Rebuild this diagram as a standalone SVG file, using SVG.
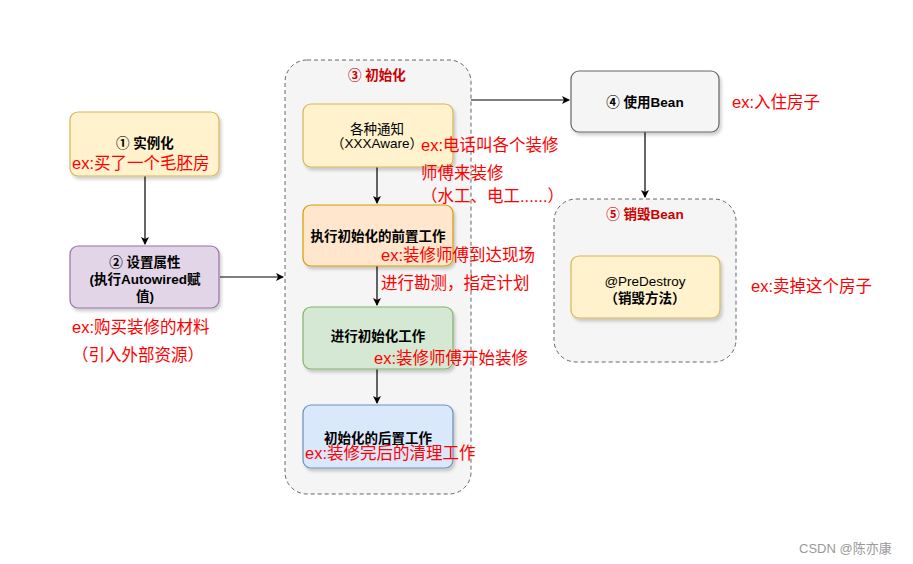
<svg xmlns="http://www.w3.org/2000/svg" width="913" height="564" viewBox="0 0 913 564">
<defs>
<style>
.t{font-family:"Liberation Sans","Noto Sans CJK SC",sans-serif;font-size:13.5px;fill:#000;text-anchor:middle;font-weight:bold}
.n{font-weight:normal}
.r{font-family:"Liberation Sans","Noto Sans CJK SC",sans-serif;font-size:16.5px;fill:#ff0000}
.rt{font-family:"Liberation Sans","Noto Sans CJK SC",sans-serif;font-size:13.5px;fill:#cc0000;font-weight:bold;text-anchor:middle}
.box{stroke-width:1.2}
.grp{fill:#f5f5f5;stroke:#666;stroke-dasharray:4 3;stroke-width:1}
.edge{fill:none;stroke:#000;stroke-width:1.2}
</style>
<marker id="ah" markerWidth="10" markerHeight="10" refX="8" refY="5" orient="auto" markerUnits="userSpaceOnUse">
<path d="M1,1 L9,5 L1,9 L3,5 Z" fill="#000"/>
</marker>
<filter id="sh" x="-10%" y="-10%" width="130%" height="140%">
<feDropShadow dx="2" dy="3" stdDeviation="1.5" flood-color="#000" flood-opacity="0.18"/>
</filter>
</defs>
<rect width="913" height="564" fill="#fff"/>

<g id="container3">
<rect class="grp" x="285" y="60" width="186" height="434" rx="22"/>
<text class="rt" x="377" y="80">③ 初始化</text>
</g>
<g id="container5">
<rect class="grp" x="554" y="199" width="182" height="163" rx="22"/>
<text class="rt" x="645" y="219">⑤ 销毁Bean</text>
</g>

<g id="connectors">
<path class="edge" d="M145,176 L145,244" marker-end="url(#ah)"/>
<path class="edge" d="M220,277 L283,277" marker-end="url(#ah)"/>
<path class="edge" d="M377,167 L377,203" marker-end="url(#ah)"/>
<path class="edge" d="M377,266 L377,305" marker-end="url(#ah)"/>
<path class="edge" d="M377,369 L377,403" marker-end="url(#ah)"/>
<path class="edge" d="M471,100 L569,100" marker-end="url(#ah)"/>
<path class="edge" d="M645,132 L645,197" marker-end="url(#ah)"/>
</g>

<g id="node1">
<rect class="box" x="70" y="112" width="149" height="64" rx="8" fill="#fff2cc" stroke="#d6b656" filter="url(#sh)"/>
<text class="t" x="145" y="148">① 实例化</text>
<text class="r" x="72" y="169">ex:买了一个毛胚房</text>
</g>

<g id="node2">
<rect class="box" x="70" y="246" width="149" height="62" rx="8" fill="#e1d5e7" stroke="#9673a6" filter="url(#sh)"/>
<text class="t" x="145" y="267">② 设置属性</text>
<text class="t" x="145" y="284">(执行Autowired赋</text>
<text class="t" x="145" y="301">值)</text>
</g>
<g id="note2">
<text class="r" x="72" y="333">ex:购买装修的材料</text>
<text class="r" x="72" y="361">（引入外部资源）</text>
</g>

<g id="nodeA">
<rect class="box" x="303" y="104" width="150" height="63" rx="8" fill="#fff2cc" stroke="#d6b656" filter="url(#sh)"/>
<text class="t n" x="377" y="134" font-size="12.5">各种通知</text>
<text class="t n" x="377" y="148" font-size="12.5">（XXXAware）</text>
</g>
<g id="noteA">
<text class="r" x="421" y="151">ex:电话叫各个装修</text>
<text class="r" x="421" y="179">师傅来装修</text>
<text class="r" x="421" y="202">（水工、电工......）</text>
</g>

<g id="nodeB">
<rect class="box" x="303" y="205" width="150" height="61" rx="8" fill="#ffe6cc" stroke="#d79b00" filter="url(#sh)"/>
<text class="t" x="378" y="241">执行初始化的前置工作</text>
</g>
<g id="noteB">
<text class="r" x="381" y="261">ex:装修师傅到达现场</text>
<text class="r" x="381" y="289">进行勘测，指定计划</text>
</g>

<g id="nodeC">
<rect class="box" x="303" y="307" width="150" height="62" rx="8" fill="#d5e8d4" stroke="#82b366" filter="url(#sh)"/>
<text class="t" x="378" y="341">进行初始化工作</text>
<text class="r" x="374" y="364">ex:装修师傅开始装修</text>
</g>

<g id="nodeD">
<rect class="box" x="303" y="405" width="150" height="63" rx="8" fill="#dae8fc" stroke="#6c8ebf" filter="url(#sh)"/>
<text class="t" x="378" y="443">初始化的后置工作</text>
<text class="r" x="305" y="459">ex:装修完后的清理工作</text>
</g>

<g id="node4">
<rect class="box" x="571" y="71" width="148" height="61" rx="8" fill="#f5f5f5" stroke="#666" filter="url(#sh)"/>
<text class="t" x="645" y="107">④ 使用Bean</text>
</g>
<g id="note4">
<text class="r" x="732" y="108">ex:入住房子</text>
</g>

<g id="nodeDestroy">
<rect class="box" x="571" y="256" width="149" height="62" rx="8" fill="#fff2cc" stroke="#d6b656" filter="url(#sh)"/>
<text class="t n" x="645" y="286" font-size="12.5">@PreDestroy</text>
<text class="t" x="645" y="303">（销毁方法）</text>
</g>
<g id="note5">
<text class="r" x="751" y="292">ex:卖掉这个房子</text>
</g>

<text x="799" y="553" font-family="Liberation Sans, Noto Sans CJK SC, sans-serif" font-size="13" fill="#999">CSDN @陈亦康</text>
</svg>
